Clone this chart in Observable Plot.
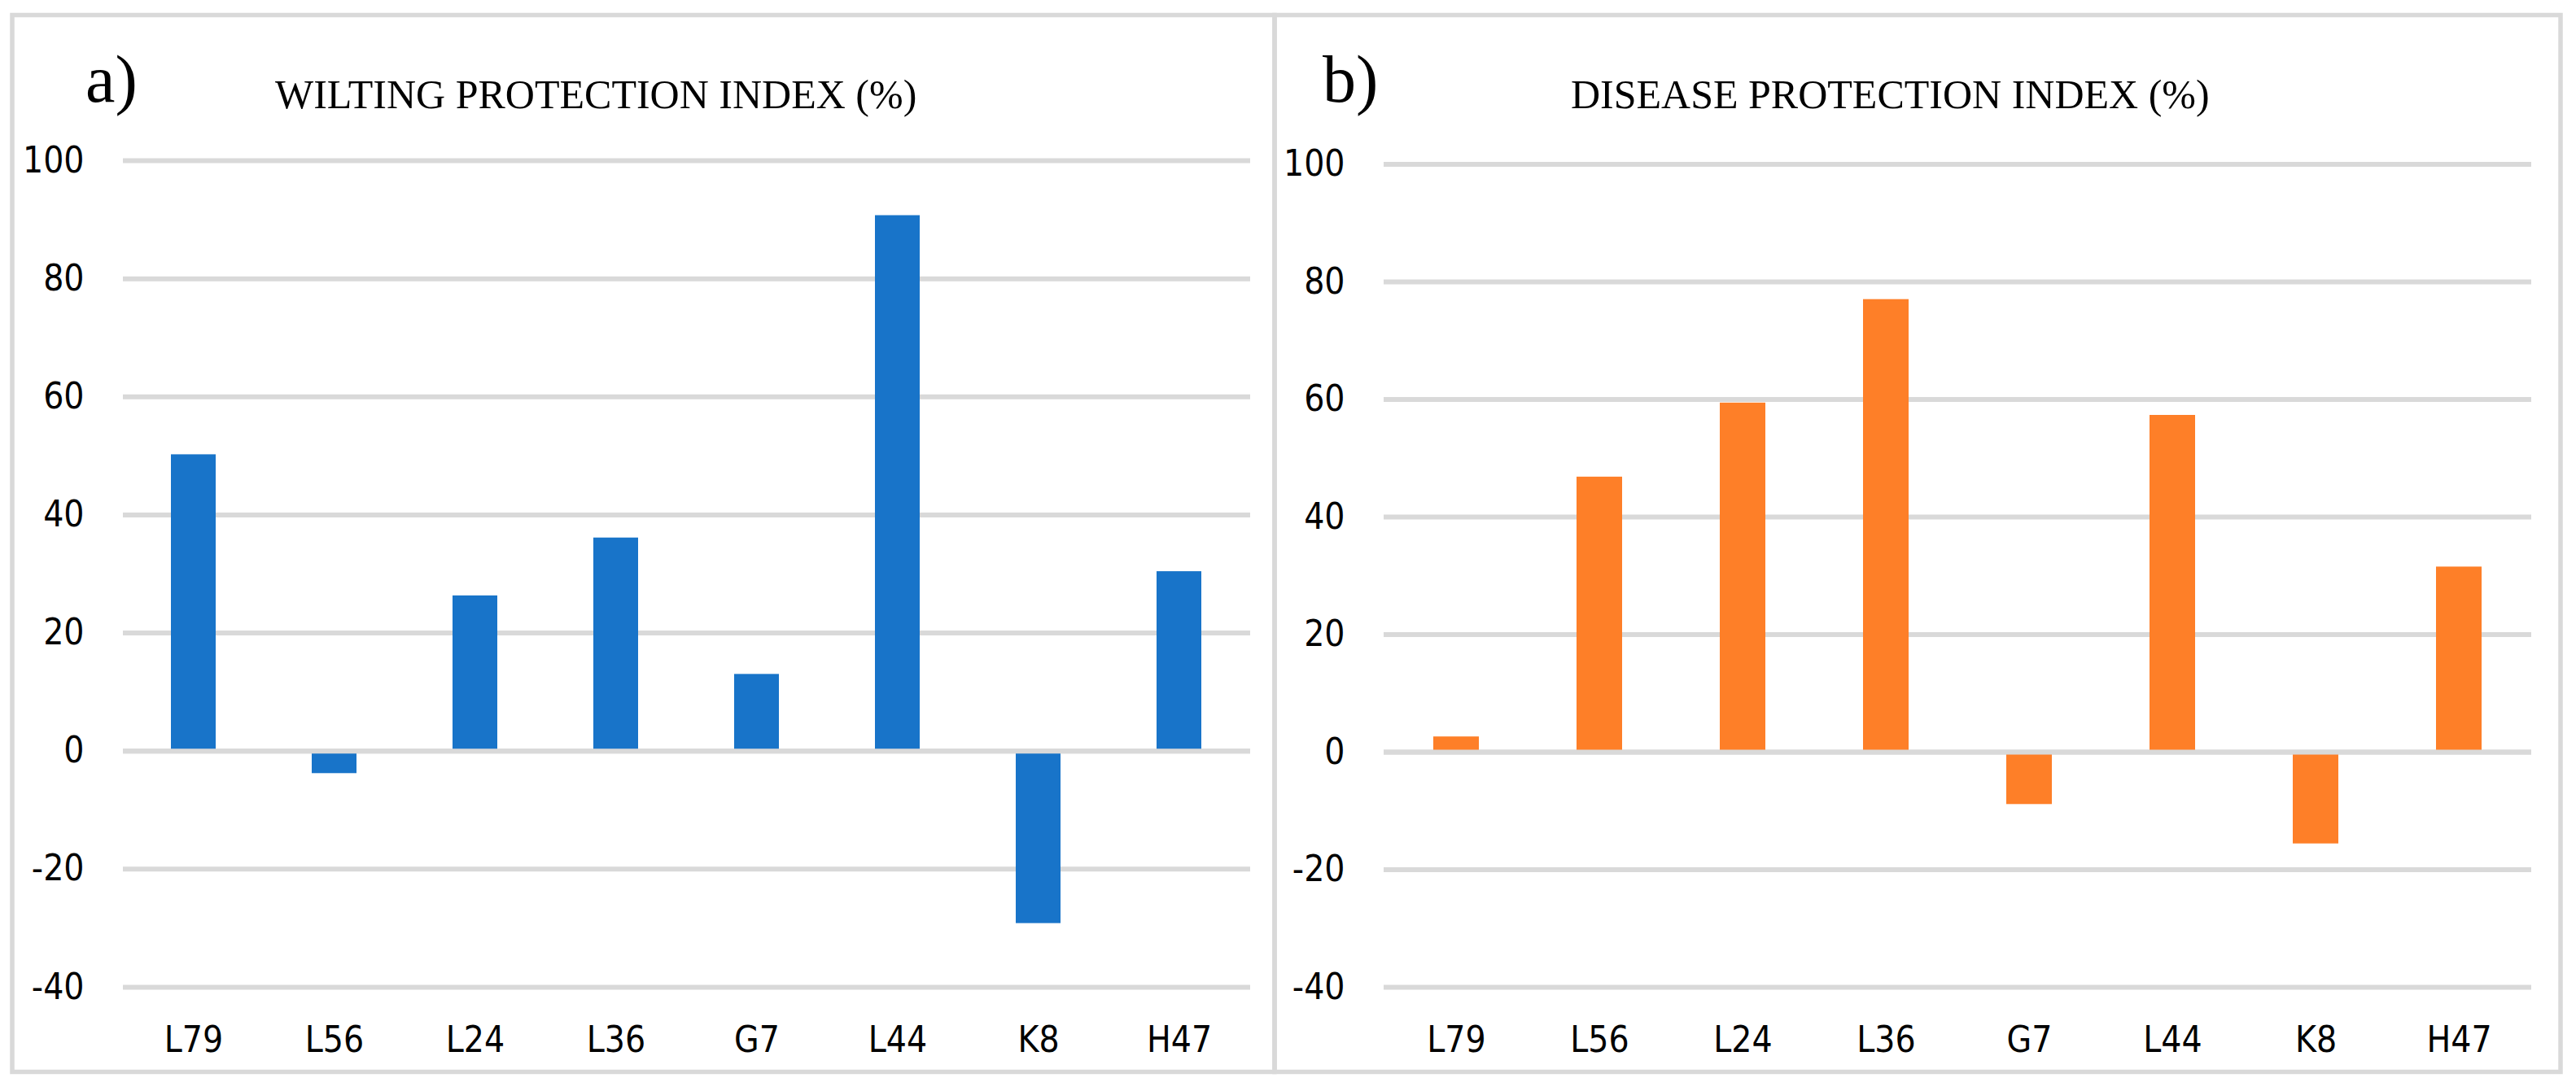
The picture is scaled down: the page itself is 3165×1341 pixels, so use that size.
<!DOCTYPE html>
<html>
<head>
<meta charset="utf-8">
<script src="https://cdn.jsdelivr.net/npm/d3@7"></script>
<script src="https://cdn.jsdelivr.net/npm/@observablehq/plot@0.6"></script>
<style>
  html, body { margin: 0; padding: 0; background: #fff; }
  #root { position: relative; width: 3165px; height: 1341px; overflow: hidden; background: #fff; }
</style>
</head>
<body>
<div id="root"></div>
<script>
// ---- data ----
const strains = ["L79", "L56", "L24", "L36", "G7", "L44", "K8", "H47"];
const wilting = [50.2, -3.8, 26.3, 36.1, 13.0, 90.7, -29.2, 30.4];
const disease = [2.6, 46.8, 59.4, 77.0, -8.9, 57.3, -15.6, 31.5];
const yTicks = [-40, -20, 0, 20, 40, 60, 80, 100];
const panelLetters = ["a)", "b)"];
const panelTitles = ["WILTING PROTECTION INDEX (%)", "DISEASE PROTECTION INDEX (%)"];

const root = document.getElementById("root");
const GRID = "#d9d9d9";
const SANS = "'Liberation Sans Narrow', 'DejaVu Sans Condensed', 'Liberation Sans', sans-serif";
const SERIF = "'Liberation Serif', 'DejaVu Serif', serif";

function panel(values, fill, cfg) {
  const data = strains.map((s, i) => ({strain: s, value: values[i]}));
  const chart = Plot.plot({
    width: cfg.width,
    height: 1341,
    marginLeft: cfg.marginLeft,
    marginRight: cfg.marginRight,
    marginTop: cfg.marginTop,
    marginBottom: cfg.marginBottom,
    style: {fontFamily: SANS, fontSize: "44px", color: "#000", background: "transparent", overflow: "visible"},
    x: {domain: strains, paddingInner: 0.682, paddingOuter: 0.341, tickSize: 0, tickPadding: 48, label: null},
    y: {domain: [-40, 100], ticks: yTicks, tickSize: 0, tickPadding: 48, label: null, tickFormat: d => String(d)},
    marks: [
      Plot.ruleY(yTicks, {stroke: GRID, strokeWidth: 6}),
      Plot.barY(data, {x: "strain", y: "value", fill}),
      Plot.ruleY([0], {stroke: GRID, strokeWidth: 6})
    ]
  });
  chart.style.position = "absolute";
  chart.style.left = cfg.left + "px";
  chart.style.top = "0px";
  root.append(chart);
}

panel(wilting, "#1874c9", {left: 0, width: 1566, marginLeft: 151, marginRight: 30, marginTop: 197, marginBottom: 128});
panel(disease, "#fe7f28", {left: 1566, width: 1599, marginLeft: 134, marginRight: 55, marginTop: 201.5, marginBottom: 128});

// ---- frames and titles ----
const svg = d3.select(root).append("svg")
  .attr("width", 3165).attr("height", 1341)
  .style("position", "absolute").style("left", "0px").style("top", "0px");

svg.append("rect").attr("x", 15).attr("y", 18.5).attr("width", 1551).attr("height", 1299)
  .attr("fill", "none").attr("stroke", GRID).attr("stroke-width", 5.5);
svg.append("rect").attr("x", 1566).attr("y", 18.5).attr("width", 1580).attr("height", 1299)
  .attr("fill", "none").attr("stroke", GRID).attr("stroke-width", 5.5);

const letterX = [105, 1625];
const titleX = [338, 1930];
panelLetters.forEach((t, i) => {
  svg.append("text").attr("x", letterX[i]).attr("y", 125)
    .attr("font-family", SERIF).attr("font-size", 82).attr("fill", "#000").text(t);
});
panelTitles.forEach((t, i) => {
  svg.append("text").attr("x", titleX[i]).attr("y", 133)
    .attr("font-family", SERIF).attr("font-size", 50).attr("fill", "#000").text(t);
});
</script>
</body>
</html>
